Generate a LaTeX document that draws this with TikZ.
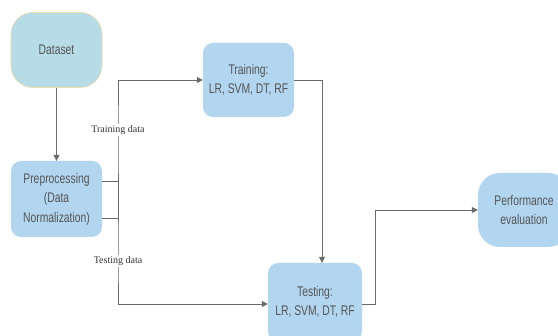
\documentclass[tikz,border=0pt]{standalone}
\usepackage{fontspec}
\setmainfont[FakeStretch=0.74]{Liberation Sans}
\newfontfamily\lblfont{Liberation Serif}
\usetikzlibrary{arrows.meta}
\definecolor{boxfill}{HTML}{B2D6F0}
\definecolor{dsfill}{HTML}{B6DCE8}
\definecolor{dsdraw}{HTML}{EED9A8}
\definecolor{txt}{HTML}{555555}
\definecolor{linec}{HTML}{6A6A6A}
\tikzset{
  x=1pt, y=-1pt,
  procbox/.style={fill=boxfill, draw=none, rounded corners=10pt, align=center,
    text=txt, font=\fontsize{14}{19.5}\selectfont, inner sep=0pt},
  conn/.style={draw=linec, line width=0.8pt, -{Triangle[length=6pt,width=6pt]}},
  lbl/.style={fill=white, inner sep=1pt, font=\lblfont\fontsize{10}{12}\selectfont, text=black!80}
}
\begin{document}
\begin{tikzpicture}
\useasboundingbox (0,0) rectangle (558,336);
\fill[white] (0,0) rectangle (558,336);
\node[procbox, fill=dsfill, draw=dsdraw, line width=0.6pt, rounded corners=22pt,
  minimum width=91pt, minimum height=75pt] (ds) at (56.5,50) {Dataset};
\node[procbox, minimum width=91pt, minimum height=76pt] (pre) at (56.5,199)
  {Preprocessing\\(Data\\Normalization)};
\node[procbox, minimum width=91pt, minimum height=74pt] (tr) at (248.5,80)
  {Training:\\LR, SVM, DT, RF};
\node[procbox, minimum width=94pt, minimum height=78pt] (te) at (315,302)
  {Testing:\\LR, SVM, DT, RF};
\node[procbox, rounded corners=22pt, minimum width=92pt, minimum height=74pt] (pe) at (524,210)
  {Performance\\evaluation};
\coordinate (trj) at (118,130);
\coordinate (tej) at (118,261);
\coordinate (tedrop) at (322,80);
\coordinate (pej) at (375,210);
\draw[conn] (ds.south) -- (pre.north);
\draw[conn] ([yshift=-19pt]pre.east) -| (trj) |- (tr.west);
\draw[conn] ([yshift=18pt]pre.east) -| (tej) |- ([yshift=-2pt]te.west);
\draw[conn] (tr.east) -| (te.north -| tedrop);
\draw[conn] ([yshift=-2pt]te.east) -| (pej) -- (pe.west);
\node[lbl] (trl) at (trj) {Training data};
\node[lbl] (tel) at (tej) {Testing data};
\end{tikzpicture}
\end{document}
